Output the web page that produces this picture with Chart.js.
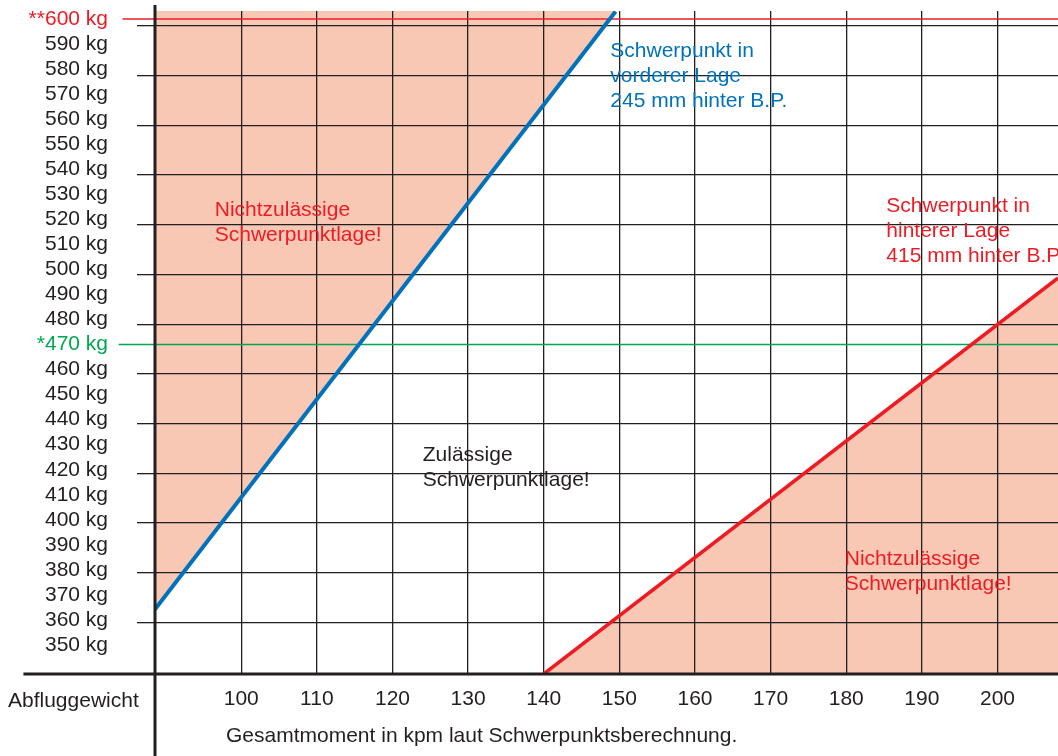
<!DOCTYPE html>
<html>
<head>
<meta charset="utf-8">
<script src="https://cdn.jsdelivr.net/npm/chart.js@4/dist/chart.umd.min.js"></script>
<style>
html,body{margin:0;padding:0;background:#fff;overflow:hidden}
#wrap{width:1058px;height:756px;position:relative}
</style>
</head>
<body>
<div id="wrap"><canvas id="c" width="1058" height="756"></canvas></div>
<script>
// ---- data ----
const momentTicks = [100, 110, 120, 130, 140, 150, 160, 170, 180, 190, 200];   // kpm
const gridWeights = [360, 380, 400, 420, 440, 460, 480, 500, 520, 540, 560, 580, 600]; // kg grid lines
const labelWeights = [350, 360, 370, 380, 390, 400, 410, 420, 430, 440, 450, 460, 470,
                      480, 490, 500, 510, 520, 530, 540, 550, 560, 570, 580, 590, 600]; // kg labels
const frontLimitMoment = [88.6, 149.5];     // Schwerpunkt vordere Lage
const frontLimitWeight = [365.3, 605.8];
const rearLimitMoment = [140, 208];         // Schwerpunkt hintere Lage
const rearLimitWeight = [339.3, 498.6];
const maxWeight = 600;                      // **600 kg
const refWeight = 470;                      // *470 kg
const markLineMoment = [84.3, 208];         // extent of the 600 / 470 kg marker lines
const refLineMoment = [83.8, 208];
const axisXMoment = [71.2, 208];
const axisYWeight = [608.4, 306.3];

const DARK = '#231f20', RED = '#ed1c24', BLUE = '#0072bc', GREEN = '#00a651', PINK = '#f9c8b4';
const FONT = {family: '"Liberation Sans", Arial, Helvetica, sans-serif', size: 21};

const xMin = 88.6, xMax = 208;
const yMin = 339.3, yMax = 606;
const lMin = 338.42, lMax = 603.19;

const pts = (xs, ys) => xs.map((x, i) => ({x, y: ys[i]}));

const annotations = [
  {x: 96.5, y: 523.6, color: RED, lines: ['Nichtzulässige', 'Schwerpunktlage!']},
  {x: 148.8, y: 587.6, color: BLUE, lines: ['Schwerpunkt in', 'vorderer Lage', '245 mm hinter B.P.']},
  {x: 185.3, y: 525.3, color: RED, lines: ['Schwerpunkt in', 'hinterer Lage', '415 mm hinter B.P.']},
  {x: 124.0, y: 425.0, color: DARK, lines: ['Zulässige', 'Schwerpunktlage!']},
  {x: 179.8, y: 383.1, color: RED, lines: ['Nichtzulässige', 'Schwerpunktlage!']}
];

const textPlugin = {
  id: 'texts',
  afterDraw(chart) {
    const {ctx, chartArea} = chart;
    const xs = chart.scales.x, ys = chart.scales.y;
    ctx.save();
    ctx.font = FONT.size + 'px ' + FONT.family;
    ctx.textBaseline = 'alphabetic';
    ctx.textAlign = 'left';
    annotations.forEach(a => {
      ctx.fillStyle = a.color;
      const px = xs.getPixelForValue(a.x);
      const py = ys.getPixelForValue(a.y);
      a.lines.forEach((t, i) => ctx.fillText(t, px, py + i * 25));
    });
    ctx.fillStyle = DARK;
    ctx.fillText('Abfluggewicht', 8, chartArea.bottom + 32.5);
    ctx.fillText('Gesamtmoment in kpm laut Schwerpunktsberechnung.', chartArea.left + 71, chartArea.bottom + 67.5);
    ctx.restore();
  }
};

const lineBase = {pointRadius: 0, pointHoverRadius: 0, tension: 0, fill: false};

new Chart(document.getElementById('c'), {
  type: 'line',
  data: {
    datasets: [
      Object.assign({}, lineBase, {label: 'axisY', data: pts([xMin, xMin], axisYWeight), yAxisID: 'y',
        borderColor: DARK, borderWidth: 3, clip: false}),
      Object.assign({}, lineBase, {label: 'axisX', data: pts(axisXMoment, [yMin, yMin]), yAxisID: 'y',
        borderColor: DARK, borderWidth: 3, clip: false}),
      Object.assign({}, lineBase, {label: 'vordere Lage', data: pts(frontLimitMoment, frontLimitWeight), yAxisID: 'y',
        borderColor: BLUE, borderWidth: 4, fill: 'end', backgroundColor: PINK}),
      Object.assign({}, lineBase, {label: 'hintere Lage', data: pts(rearLimitMoment, rearLimitWeight), yAxisID: 'y',
        borderColor: RED, borderWidth: 3.5, fill: 'start', backgroundColor: PINK}),
      Object.assign({}, lineBase, {label: '600 kg', data: pts(markLineMoment, [maxWeight, maxWeight]), yAxisID: 'yLabel',
        borderColor: RED, borderWidth: 1.7, clip: false}),
      Object.assign({}, lineBase, {label: '470 kg', data: pts(refLineMoment, [refWeight, refWeight]), yAxisID: 'yLabel',
        borderColor: GREEN, borderWidth: 1.6, clip: false})
    ]
  },
  options: {
    responsive: false,
    animation: false,
    devicePixelRatio: 1,
    layout: {padding: {top: 11, right: 0, bottom: 0, left: 0}},
    plugins: {
      legend: {display: false},
      tooltip: {enabled: false},
      filler: {drawTime: 'beforeDraw'}
    },
    scales: {
      x: {
        type: 'linear', position: 'bottom', min: xMin, max: xMax,
        afterBuildTicks: s => { s.ticks = momentTicks.map(v => ({value: v})); },
        afterFit: s => { s.height = 82; s.paddingLeft = 0; s.paddingRight = 0; },
        ticks: {font: FONT, color: DARK, padding: 13, autoSkip: false, maxRotation: 0, callback: v => String(v)},
        grid: {color: DARK, lineWidth: 1.3, drawTicks: false},
        border: {display: false}
      },
      y: {
        type: 'linear', position: 'left', weight: 0, min: yMin, max: yMax,
        afterBuildTicks: s => { s.ticks = gridWeights.map(v => ({value: v})); },
        afterFit: s => { s.width = 0; s.paddingTop = 0; s.paddingBottom = 0; },
        ticks: {display: false},
        grid: {color: DARK, lineWidth: 1.3, drawTicks: true, tickLength: 18},
        border: {display: false}
      },
      yLabel: {
        type: 'linear', position: 'left', weight: 1, min: lMin, max: lMax,
        afterBuildTicks: s => { s.ticks = labelWeights.map(v => ({value: v})); },
        afterFit: s => { s.width = 155; s.paddingTop = 0; s.paddingBottom = 0; },
        ticks: {
          font: FONT, padding: 47, autoSkip: false,
          color: c => c.tick.value === maxWeight ? RED : (c.tick.value === refWeight ? GREEN : DARK),
          callback: v => v === maxWeight ? '**600 kg' : (v === refWeight ? '*470 kg' : v + ' kg')
        },
        grid: {display: false, drawTicks: false},
        border: {display: false}
      }
    }
  },
  plugins: [textPlugin]
});
</script>
</body>
</html>
